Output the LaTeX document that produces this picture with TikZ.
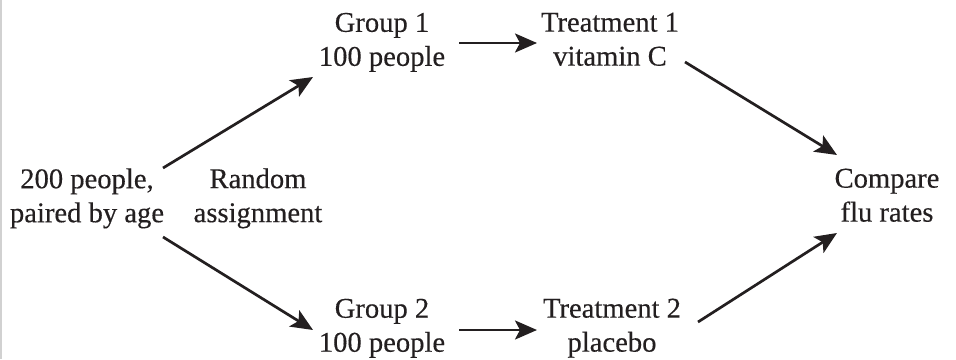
\documentclass[tikz,border=0pt]{standalone}
\usepackage{fontspec}
\setmainfont{Liberation Serif}
\newfontfamily\labelfont{Liberation Serif}[FakeBold=0.35]
\usetikzlibrary{arrows.meta}
\definecolor{ink}{HTML}{231F20}
\tikzset{
  lbl/.style={align=center, inner sep=0pt, text=ink, font=\labelfont\fontsize{28.6}{34}\selectfont},
  arr/.style={draw=ink, line width=2.7pt, -{Stealth[length=22pt,width=19pt,inset=5pt]}}
}
\begin{document}
\begin{tikzpicture}[x=1pt,y=-1pt]
\useasboundingbox (0,0) rectangle (956,359);
\draw[black!18, line width=1.6pt] (0.8,0) -- (0.8,359);
\node[lbl] (src) at (87,198.4) {200 people,\\paired by age};
\node[lbl] (ra) at (258,198.3) {Random\\assignment};
\node[lbl] (g1) at (382,42.4) {Group 1\\100 people};
\node[lbl] (t1) at (610,39.3) {Treatment 1\\vitamin C};
\node[lbl] (g2) at (382,328.3) {Group 2\\100 people};
\node[lbl] (t2) at (612,328.2) {Treatment 2\\placebo};
\node[lbl] (cmp) at (887,195.3) {Compare\\flu rates};
\draw[arr] ([shift={(76,-30.4)}]src.center) -- ([shift={(-69,34.6)}]g1.center);
\draw[arr] ([shift={(76,38.6)}]src.center) -- ([shift={(-69,1.7)}]g2.center);
\draw[arr] ([shift={(77,0.6)}]g1.center) -- ([shift={(-73,3.7)}]t1.center);
\draw[arr] ([shift={(77,1.7)}]g2.center) -- ([shift={(-75,1.8)}]t2.center);
\draw[arr] ([shift={(75,22.7)}]t1.center) -- ([shift={(-50,-40.3)}]cmp.center);
\draw[arr] ([shift={(86,-6.2)}]t2.center) -- ([shift={(-50,37.7)}]cmp.center);
\end{tikzpicture}
\end{document}
